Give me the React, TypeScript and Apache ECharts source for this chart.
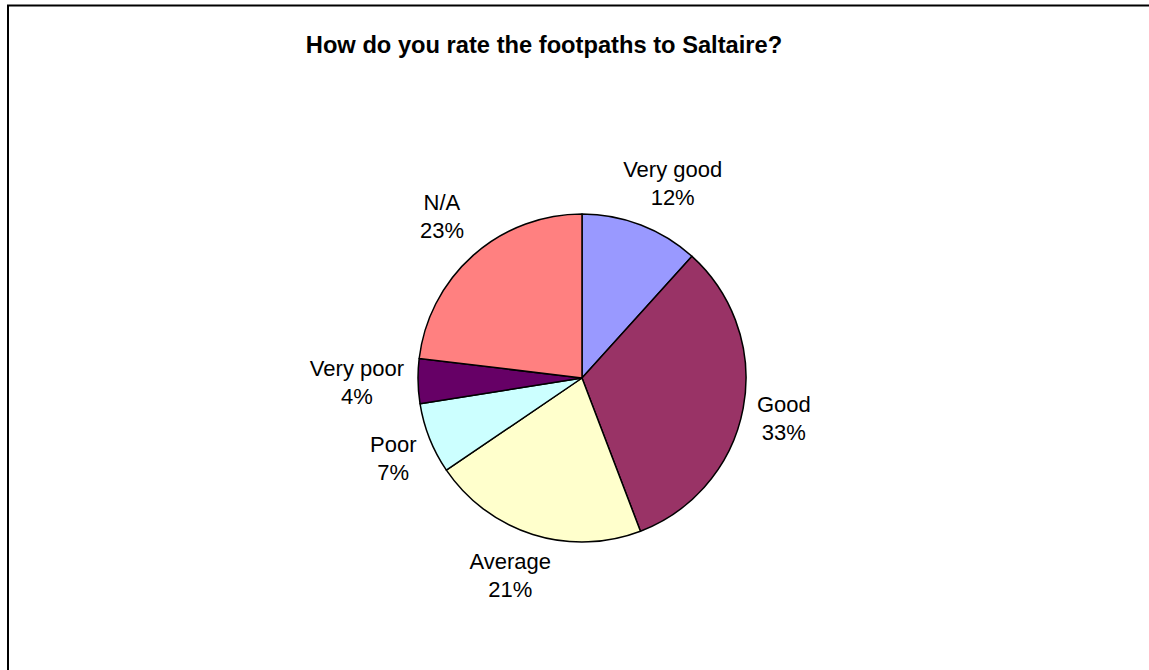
import React, { useEffect, useRef } from "react";
import * as echarts from "echarts";

const titleText = "How do you rate the footpaths to Saltaire?";
const categories = ["Very good", "Good", "Average", "Poor", "Very poor", "N/A"];
// slice sizes; labels show the rounded shares
const values = [11.7, 32.5, 21.3, 7.0, 4.4, 23.1];
const colors = ["#9999FF", "#993366", "#FFFFCC", "#CCFFFF", "#660066", "#FF8080"];

const CX = 582;
const CY = 378;
const R = 164;
const LABEL_GAP = 14;
const PUSH = 1.5;

export default function App() {
  const ref = useRef<HTMLDivElement>(null);
  useEffect(() => {
    if (!ref.current) return;
    const chart = echarts.init(ref.current, undefined, { renderer: "svg" });
    const total = values.reduce((a, b) => a + b, 0);
    const mids: number[] = [];
    let acc = 0;
    values.forEach((v) => {
      mids.push(((acc + v / 2) / total) * Math.PI * 2);
      acc += v;
    });
    const clamp = (v: number) => Math.max(-1, Math.min(1, v));
    chart.setOption({
      animation: false,
      backgroundColor: "#ffffff",
      title: {
        text: titleText,
        left: 539,
        textAlign: "center",
        top: 28,
        textStyle: {
          fontFamily: "Liberation Sans, Arial, sans-serif",
          fontSize: 23.7,
          fontWeight: "bold",
          color: "#000",
        },
      },
      graphic: [
        {
          type: "rect",
          shape: { x: 8, y: 5.5, width: 1200, height: 700 },
          style: { fill: "none", stroke: "#000", lineWidth: 2 },
          silent: true,
        },
      ],
      series: [
        {
          type: "pie",
          center: [CX, CY],
          radius: R,
          startAngle: 90,
          clockwise: true,
          percentPrecision: 0,
          color: colors,
          itemStyle: { borderColor: "#000", borderWidth: 1.5 },
          label: {
            show: true,
            position: "outside",
            formatter: "{b}\n{d}%",
            fontFamily: "Liberation Sans, Arial, sans-serif",
            fontSize: 22,
            lineHeight: 28,
            color: "#000",
          },
          labelLine: { show: false, length: 20, length2: 0 },
          labelLayout: (p: any) => {
            const th = mids[p.dataIndex];
            const ux = Math.sin(th);
            const uy = -Math.cos(th);
            const w = p.labelRect.width;
            const h = p.labelRect.height;
            const ax = CX + ux * (R + LABEL_GAP);
            const ay = CY + uy * (R + LABEL_GAP);
            return {
              x: ax + clamp(ux * PUSH) * (w / 2),
              y: ay + clamp(uy * PUSH) * (h / 2),
              align: "center",
              verticalAlign: "middle",
            };
          },
          emphasis: { disabled: true },
          data: categories.map((name, i) => ({ name, value: values[i] })),
        },
      ],
    });
    return () => chart.dispose();
  }, []);
  return (
    <div
      ref={ref}
      style={{ position: "absolute", left: 0, top: 0, width: 1149, height: 670 }}
    />
  );
}
